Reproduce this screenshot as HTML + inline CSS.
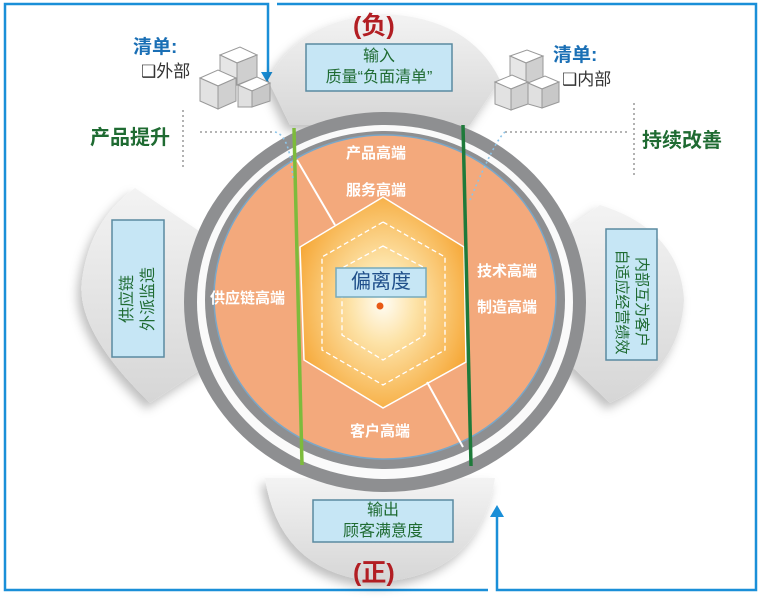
<!DOCTYPE html>
<html><head><meta charset="utf-8"><style>
html,body{margin:0;padding:0;background:#fff;}
body{width:760px;height:598px;overflow:hidden;position:relative;font-family:"Liberation Sans","Noto Sans CJK SC",sans-serif;}
.t{position:absolute;white-space:nowrap;}
</style></head><body>
<svg width="760" height="598" style="position:absolute;left:0;top:0">
<defs>
<radialGradient id="hex" cx="0.5" cy="0.5" r="0.55">
<stop offset="0" stop-color="#fffdf5"/><stop offset="0.35" stop-color="#fde3a8"/><stop offset="1" stop-color="#f6a93a"/>
</radialGradient>
<linearGradient id="lobe" x1="0" y1="0" x2="0" y2="1">
<stop offset="0" stop-color="#f3f3f3"/><stop offset="1" stop-color="#d6d6d6"/>
</linearGradient>
<filter id="sh" x="-20%" y="-20%" width="140%" height="140%"><feDropShadow dx="-4" dy="6" stdDeviation="5" flood-color="#000" flood-opacity="0.25"/></filter>
</defs>
<g stroke="#1a8fd8" stroke-width="2.5" fill="none">
<polyline points="268,74 268,4 5,4 5,590 488,590"/>
<polyline points="277,4 756,4 756,590 497,590 497,515"/>
</g>
<polygon points="261,72 275,72 268,84" fill="#1a8fd8"/>
<polygon points="490,517 504,517 497,505" fill="#1a8fd8"/>
<path d="M268,80 Q300,18 385,14 Q470,18 500,80 L470,125 L290,125 Z" fill="url(#lobe)" filter="url(#sh)"/>
<path d="M265,478 L495,478 Q480,575 380,582 Q280,575 265,478 Z" fill="url(#lobe)" filter="url(#sh)"/>
<path d="M135,188 L205,235 L215,360 L150,403 Q75,330 82,280 Q90,220 135,188 Z" fill="url(#lobe)" filter="url(#sh)"/>
<path d="M600,205 Q680,230 684,300 Q680,370 610,403 L565,360 L565,230 Z" fill="url(#lobe)" filter="url(#sh)"/>
<ellipse cx="385" cy="302" rx="201" ry="190" fill="#8e8f91"/>
<ellipse cx="385" cy="302" rx="188" ry="177" fill="#fafafa"/>
<ellipse cx="385" cy="300" rx="180" ry="169" fill="#8e8f91"/>
<ellipse cx="385" cy="297" rx="171" ry="162" fill="#f3a97c" stroke="#7aa7c8" stroke-width="1.5"/>
<polygon points="383,197 464,247 466,362 383,408 304,360 300,247" fill="url(#hex)" stroke="#fff" stroke-width="1.5"/>
<polygon points="383,222 445,257 445,350 383,385 322,350 322,257" fill="none" stroke="#fff" stroke-dasharray="5,3" stroke-width="1.3"/>
<polygon points="383,246 425,268 425,335 383,360 342,335 342,268" fill="none" stroke="#fff" stroke-dasharray="5,3" stroke-width="1.3"/>
<line x1="297" y1="160" x2="335" y2="225" stroke="#fff" stroke-width="2"/>
<line x1="427" y1="382" x2="463" y2="447" stroke="#fff" stroke-width="2"/>
<line x1="294" y1="128" x2="302" y2="465" stroke="#7dbb3c" stroke-width="3.5"/>
<line x1="463" y1="125" x2="471" y2="466" stroke="#1e7a3a" stroke-width="3.5"/>
<circle cx="380" cy="306" r="3.5" fill="#e85a16"/>
<g stroke="#888" stroke-width="1.3" stroke-dasharray="2,3" fill="none">
<line x1="200" y1="132" x2="275" y2="132"/><line x1="183" y1="110" x2="183" y2="170"/>
<line x1="505" y1="132" x2="630" y2="132"/><line x1="634" y1="103" x2="634" y2="175"/>
</g>
<g stroke="#8cc4e8" stroke-width="1.6" stroke-dasharray="2,3" fill="none">
<path d="M275,132 Q290,135 293,180"/><path d="M505,132 Q495,140 470,200"/>
</g>
<g stroke="#999" stroke-width="1">
<g transform="translate(200,45)">
<polygon points="20,10 40,2 57,10 37,18" fill="#fff"/><polygon points="20,10 37,18 37,40 20,32" fill="#e6e6e6"/><polygon points="37,18 57,10 57,32 37,40" fill="#cfcfcf"/>
<polygon points="0,33 18,25 36,33 18,41" fill="#fff"/><polygon points="0,33 18,41 18,64 0,56" fill="#e2e2e2"/><polygon points="18,41 36,33 36,56 18,64" fill="#d0d0d0"/>
<polygon points="38,40 57,32 70,38 52,46" fill="#fff"/><polygon points="38,40 52,46 52,62 38,62" fill="#e0e0e0"/><polygon points="52,46 70,38 70,56 52,62" fill="#c8c8c8"/>
</g>
<g transform="translate(495,48)">
<polygon points="15,8 32,2 48,8 31,15" fill="#fff"/><polygon points="15,8 31,15 31,36 15,30" fill="#e6e6e6"/><polygon points="31,15 48,8 48,30 31,36" fill="#cfcfcf"/>
<polygon points="0,34 17,27 33,34 16,41" fill="#fff"/><polygon points="0,34 16,41 16,62 0,56" fill="#e2e2e2"/><polygon points="16,41 33,34 33,56 16,62" fill="#d0d0d0"/>
<polygon points="33,35 50,28 64,34 47,41" fill="#fff"/><polygon points="33,35 47,41 47,60 33,56" fill="#e0e0e0"/><polygon points="47,41 64,34 64,54 47,60" fill="#c8c8c8"/>
</g>
</g>
<g fill="#c6e6f5" stroke="#5a8aa0" stroke-width="1.5">
<rect x="306" y="44" width="146" height="47"/>
<rect x="313" y="500" width="140" height="42"/>
<rect x="112" y="220" width="52" height="137"/>
<rect x="606" y="229" width="51" height="131"/>
<rect x="336" y="268" width="90" height="29" stroke="#7ab" />
</g>
</svg>
<div class="t" style="left:353px;top:6px;font-size:25px;font-weight:bold;color:#b21e23">(负)</div>
<div class="t" style="left:353px;top:553px;font-size:25px;font-weight:bold;color:#b21e23">(正)</div>
<div class="t" style="left:306px;top:46px;width:146px;text-align:center;font-size:16px;line-height:21px;color:#1f6b32">输入<br>质量“负面清单”</div>
<div class="t" style="left:313px;top:500px;width:140px;text-align:center;font-size:16px;line-height:21px;color:#1f6b32">输出<br>顾客满意度</div>
<div class="t" style="left:336px;top:268px;width:90px;text-align:center;font-size:20px;line-height:29px;color:#1f4f8a">偏离度</div>
<div class="t" style="left:133px;top:32px;font-size:19px;font-weight:bold;color:#1a6fb5">清单:</div>
<div class="t" style="left:141px;top:57px;font-size:17px;color:#333">❑外部</div>
<div class="t" style="left:553px;top:40px;font-size:19px;font-weight:bold;color:#1a6fb5">清单:</div>
<div class="t" style="left:562px;top:65px;font-size:17px;color:#333">❑内部</div>
<div class="t" style="left:90px;top:121px;font-size:20px;font-weight:bold;color:#1f6b32">产品提升</div>
<div class="t" style="left:642px;top:124px;font-size:20px;font-weight:bold;color:#1f6b32">持续改善</div>
<div class="t" style="left:346px;top:142px;font-size:15px;font-weight:bold;color:#fff">产品高端</div>
<div class="t" style="left:346px;top:179px;font-size:15px;font-weight:bold;color:#fff">服务高端</div>
<div class="t" style="left:210px;top:287px;font-size:15px;font-weight:bold;color:#fff">供应链高端</div>
<div class="t" style="left:477px;top:260px;font-size:15px;font-weight:bold;color:#fff">技术高端</div>
<div class="t" style="left:477px;top:296px;font-size:15px;font-weight:bold;color:#fff">制造高端</div>
<div class="t" style="left:350px;top:420px;font-size:15px;font-weight:bold;color:#fff">客户高端</div>
<div class="t" style="left:138px;top:278px;width:130px;margin-left:-65px;transform:rotate(-90deg);font-size:16px;line-height:21px;color:#1f6b32;text-align:center">供应链<br>外派监造</div>
<div class="t" style="left:631px;top:282px;width:130px;margin-left:-65px;transform:rotate(90deg);font-size:15px;line-height:20px;color:#1f6b32;text-align:center">内部互为客户<br>自适应经营绩效</div>
</body></html>
